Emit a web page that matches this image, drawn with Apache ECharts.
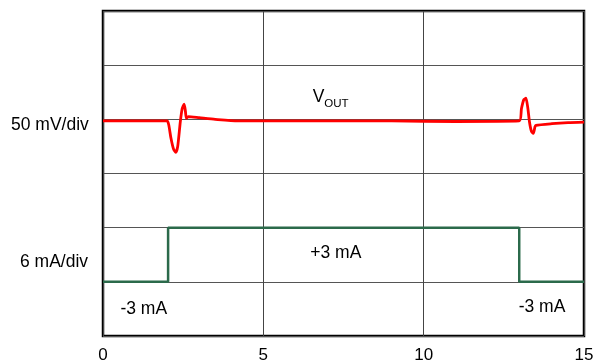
<!DOCTYPE html>
<html>
<head>
<meta charset="utf-8">
<script src="https://cdn.jsdelivr.net/npm/echarts@6/dist/echarts.min.js"></script>
<style>
  html, body { margin: 0; padding: 0; background: #fff; }
  #chart { width: 608px; height: 364px; }
</style>
</head>
<body>
<div id="chart"></div>
<script>
// Time axis ticks (x) and the vertical divisions of the scope screen (y)
const xTicks = [0, 5, 10, 15];
const yDivisions = 6;

// Output voltage trace, in screen divisions
const voutTrace = [
  [0, 3.97], [1, 3.97], [2.0, 3.97], [2.05, 3.9], [2.12, 3.65], [2.2, 3.45],
  [2.27, 3.39], [2.33, 3.5], [2.41, 3.95], [2.47, 4.2], [2.53, 4.28], [2.57, 4.15],
  [2.6, 4.02], [2.66, 4.05], [3, 4.03], [3.5, 4.0], [4.2, 3.97], [5, 3.97],
  [7, 3.97], [9, 3.97], [11, 3.96], [12.98, 3.97], [13.05, 4.2], [13.12, 4.36],
  [13.19, 4.39], [13.25, 4.2], [13.3, 3.95], [13.36, 3.78], [13.42, 3.74],
  [13.47, 3.86], [13.5, 3.89], [14, 3.92], [14.5, 3.94], [15, 3.95]
];

// Load current step, in screen divisions
const loadTrace = [
  [0, 1], [2.03, 1], [2.03, 2], [12.98, 2], [12.98, 1], [15, 1]
];

// In-plot annotations: [x, y, text]
const notes = [
  [7.1, 4.42, '{v|V}{s|OUT}'],
  [7.26, 1.53, '+3 mA'],
  [1.27, 0.5, '-3 mA'],
  [13.69, 0.53, '-3 mA']
];

const chart = echarts.init(document.getElementById('chart'));
const font = 'Liberation Sans, Arial, sans-serif';
const fs = 17.5;

chart.setOption({
  animation: false,
  backgroundColor: '#fff',
  grid: {
    left: 103, right: 24, top: 11, bottom: 27,
    show: true, borderColor: '#000', borderWidth: 2.5, backgroundColor: 'transparent'
  },
  xAxis: {
    type: 'value', min: xTicks[0], max: xTicks[xTicks.length - 1], interval: 5,
    axisLine: { show: false },
    axisTick: { show: false },
    axisLabel: { color: '#000', fontFamily: font, fontSize: 17, margin: 11 },
    splitLine: { show: true, lineStyle: { color: '#444', width: 1 } }
  },
  yAxis: {
    type: 'value', min: 0, max: yDivisions, interval: 1,
    axisLine: { show: false },
    axisTick: { show: false },
    axisLabel: { show: false },
    splitLine: { show: true, lineStyle: { color: '#555', width: 1 } }
  },
  graphic: [
    { type: 'text', left: 11, top: 116, style: { text: '50 mV/div', font: fs + 'px ' + font, fill: '#000' } },
    { type: 'text', left: 20, top: 253, style: { text: '6 mA/div', font: fs + 'px ' + font, fill: '#000' } }
  ],
  series: [
    {
      type: 'line', data: loadTrace, symbol: 'none',
      lineStyle: { color: '#2b6a4b', width: 2.5 }, z: 3
    },
    {
      type: 'line', data: voutTrace, symbol: 'none', smooth: 0.2,
      lineStyle: { color: '#ff0000', width: 2.8 }, z: 4
    },
    {
      type: 'scatter', symbolSize: 0, z: 5,
      itemStyle: { opacity: 1 },
      data: notes.map(n => ({ value: [n[0], n[1]], name: n[2] })),
      label: {
        show: true, position: 'inside', formatter: p => p.name, opacity: 1,
        color: '#000', fontFamily: font, fontSize: fs,
        rich: {
          v: { fontFamily: font, fontSize: fs, color: '#000', verticalAlign: 'bottom', lineHeight: 20 },
          s: { fontFamily: font, fontSize: 11.5, color: '#000', verticalAlign: 'bottom', lineHeight: 13, padding: [0, 0, -3, 0] }
        }
      }
    }
  ]
});
</script>
</body>
</html>
